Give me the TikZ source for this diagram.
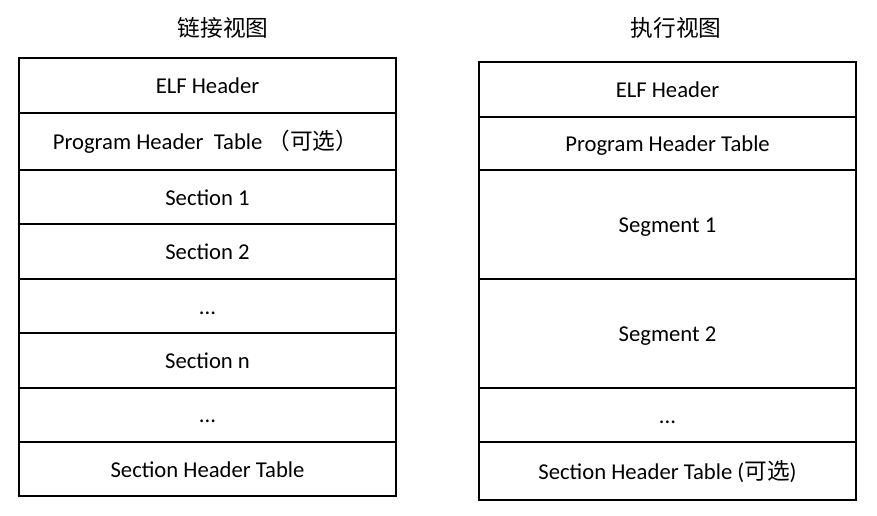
\documentclass[tikz,border=0pt]{standalone}
\usepackage{fontspec}
\setmainfont{Carlito}
\newfontfamily\cjk{Noto Sans CJK SC}

\tikzset{every picture/.style={line width=1pt}}
\tikzset{cell/.style={anchor=base,inner sep=0pt,font=\fontsize{17}{20}\selectfont}}

\begin{document}
\begin{tikzpicture}[x=0.75pt,y=0.75pt,yscale=-1,xscale=1]
  \useasboundingbox (0,0) rectangle (877,515); %set diagram size to 877 x 515

  % left table: link view
  \draw (19,58) rectangle (396,113) ;
  \draw (19,113) rectangle (396,170) ;
  \draw (19,170) rectangle (396,224) ;
  \draw (19,224) rectangle (396,279) ;
  \draw (19,279) rectangle (396,333) ;
  \draw (19,333) rectangle (396,388) ;
  \draw (19,388) rectangle (396,442) ;
  \draw (19,442) rectangle (396,496) ;

  % right table: execution view
  \draw (479,62) rectangle (856,117) ;
  \draw (479,117) rectangle (856,170) ;
  \draw (479,170) rectangle (856,279) ;
  \draw (479,279) rectangle (856,388) ;
  \draw (479,388) rectangle (856,442) ;
  \draw (479,442) rectangle (856,500) ;

  \draw (223,36) node [cell] (ltitle) {\cjk 链接视图};
  \draw (676,36) node [cell] (rtitle) {\cjk 执行视图};

  \draw (207.5,93.5) node [cell] (lelf) {ELF Header};
  \draw (205.5,149.5) node [cell] (lpht) {Program Header\ \ Table {\cjk （可选）}};
  \draw (207.5,205) node [cell] (lsec1) {Section 1};
  \draw (207.5,259.5) node [cell] (lsec2) {Section 2};
  \draw (207.5,314) node [cell] (ldots1) {...};
  \draw (207.5,368) node [cell] (lsecn) {Section n};
  \draw (207.5,422.5) node [cell] (ldots2) {...};
  \draw (207.5,477) node [cell] (lsht) {Section Header Table};

  \draw (667.5,97.5) node [cell] (relf) {ELF Header};
  \draw (667.5,151.5) node [cell] (rpht) {Program Header Table};
  \draw (667.5,232.5) node [cell] (rseg1) {Segment 1};
  \draw (667.5,341.5) node [cell] (rseg2) {Segment 2};
  \draw (667.5,423) node [cell] (rdots) {...};
  \draw (667.5,479) node [cell] (rsht) {Section Header Table ({\cjk 可选})};

\end{tikzpicture}
\end{document}
